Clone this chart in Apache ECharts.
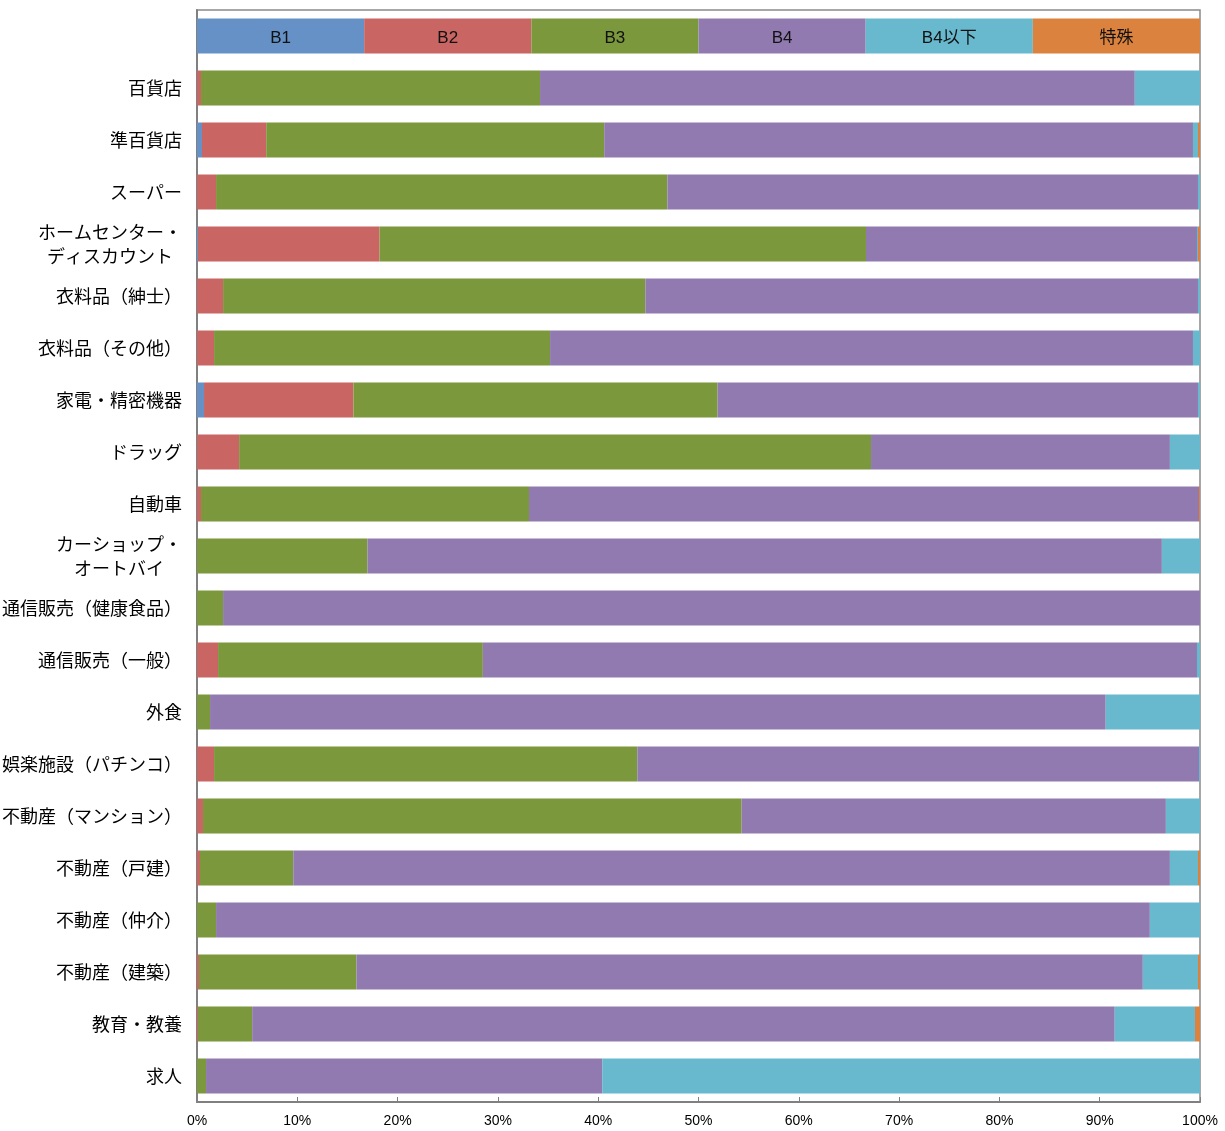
<!DOCTYPE html>
<html>
<head>
<meta charset="utf-8">
<script src="https://cdn.jsdelivr.net/npm/echarts@6/dist/echarts.min.js"></script>
<style>
    html, body { margin: 0; padding: 0; background: #fff; }
    #chart { width: 1225px; height: 1131px; }
</style>
</head>
<body>
<div id="chart"></div>
<script>
// 業種（上から順）
const categories = [
    '百貨店', '準百貨店', 'スーパー', 'ホームセンター・\nディスカウント', '衣料品（紳士）',
    '衣料品（その他）', '家電・精密機器', 'ドラッグ', '自動車', 'カーショップ・\nオートバイ',
    '通信販売（健康食品）', '通信販売（一般）', '外食', '娯楽施設（パチンコ）', '不動産（マンション）',
    '不動産（戸建）', '不動産（仲介）', '不動産（建築）', '教育・教養', '求人'
];

const seriesNames = ['B1', 'B2', 'B3', 'B4', 'B4以下', '特殊'];

// 構成比（%）
const b1 = [0, 0.5, 0, 0.1, 0, 0, 0.7, 0, 0, 0, 0, 0, 0, 0, 0, 0, 0, 0, 0, 0];
const b2 = [0.4, 6.4, 1.9, 18.1, 2.6, 1.7, 14.9, 4.2, 0.4, 0, 0, 2.1, 0, 1.7, 0.6, 0.3, 0, 0.2, 0.1, 0];
const b3 = [33.8, 33.7, 45.0, 48.5, 42.1, 33.5, 36.3, 63.0, 32.7, 17.0, 2.6, 26.4, 1.3, 42.2, 53.7, 9.3, 1.9, 15.7, 5.4, 0.9];
const b4 = [59.3, 58.7, 52.9, 33.0, 55.1, 64.1, 47.9, 29.8, 66.8, 79.2, 97.4, 71.2, 89.3, 56.0, 42.3, 87.4, 93.1, 78.4, 86.0, 39.5];
const b4under = [6.5, 0.5, 0.2, 0.1, 0.2, 0.7, 0.2, 3.0, 0, 3.8, 0, 0.3, 9.4, 0.1, 3.4, 2.8, 5.0, 5.5, 8.0, 59.6];
const special = [0, 0.2, 0, 0.2, 0, 0, 0, 0, 0.1, 0, 0, 0, 0, 0, 0, 0.2, 0, 0.2, 0.5, 0];

// 凡例行（各区分を等幅で並べる）
const legendShare = 16.667;

const xTicks = [0, 10, 20, 30, 40, 50, 60, 70, 80, 90, 100];

const colors = ['#6591C6', '#C96562', '#7B983D', '#917AB0', '#68B8CE', '#DB823F'];
const values = [b1, b2, b3, b4, b4under, special];

const labelSize = 18;

let myChart = echarts.init(document.getElementById('chart'));

let series = seriesNames.map(function (name, i) {
    return {
        name: name,
        type: 'bar',
        stack: 'total',
        barWidth: 35,
        itemStyle: { color: colors[i] },
        label: {
            show: true,
            position: 'inside',
            offset: [0, 2],
            color: '#111',
            fontSize: 17,
            fontFamily: 'Liberation Sans, Noto Sans CJK JP',
            formatter: function (p) {
                return p.dataIndex === 0 ? p.seriesName : '';
            }
        },
        data: [legendShare].concat(values[i])
    };
});

let richLine = function (n) {
    return {
        width: n * labelSize,
        align: 'center',
        fontSize: labelSize,
        lineHeight: 24,
        color: '#000',
        fontFamily: 'Noto Sans CJK JP'
    };
};

let option = {
    animation: false,
    grid: {
        left: 197,
        right: 25,
        top: 10,
        bottom: 29,
        outerBoundsMode: 'none',
        containLabel: false,
        show: true,
        borderColor: '#8a8a8a',
        borderWidth: 1.5
    },
    xAxis: {
        type: 'value',
        min: xTicks[0],
        max: xTicks[xTicks.length - 1],
        interval: 10,
        splitLine: { show: false },
        axisLine: { show: true, lineStyle: { color: '#808080', width: 2 } },
        axisTick: { show: true, inside: true, length: 5, lineStyle: { color: '#808080' } },
        axisLabel: {
            formatter: '{value}%',
            color: '#000',
            fontSize: 14,
            fontFamily: 'Liberation Sans',
            margin: 12
        }
    },
    yAxis: {
        type: 'category',
        inverse: true,
        data: [''].concat(categories),
        axisLine: { show: true, lineStyle: { color: '#808080', width: 2 } },
        axisTick: { show: false },
        axisLabel: {
            interval: 0,
            color: '#000',
            fontSize: labelSize,
            fontFamily: 'Noto Sans CJK JP',
            margin: 15,
            lineHeight: 24,
            formatter: function (v) {
                if (v.indexOf('\n') < 0) return v;
                let lines = v.split('\n');
                let w = Math.max.apply(null, lines.map(function (l) { return l.length; }));
                return lines.map(function (l) { return '{c' + w + '|' + l + '}'; }).join('\n');
            },
            rich: {
                c7: richLine(7),
                c8: richLine(8)
            }
        }
    },
    series: series
};

myChart.setOption(option);
window.addEventListener('resize', function () {
    myChart.resize();
});
</script>
</body>
</html>
